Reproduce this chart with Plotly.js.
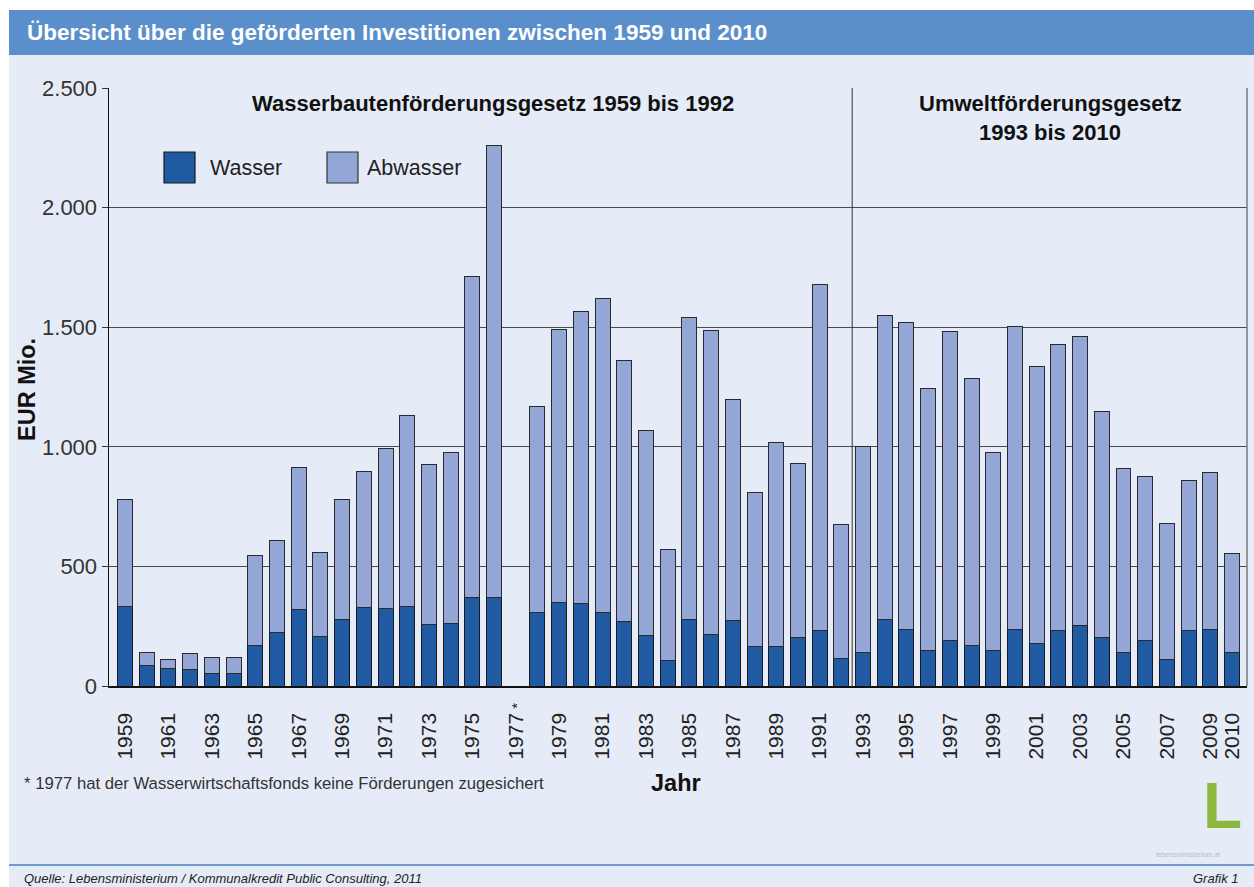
<!DOCTYPE html>
<html>
<head>
<meta charset="utf-8">
<script src="https://cdn.plot.ly/plotly-3.0.1.min.js"></script>
<style>
  html, body { margin: 0; padding: 0; background: #ffffff; }
  #chart { width: 1254px; height: 887px; }
</style>
</head>
<body>
<div id="chart"></div>
<script>
// Jahre 1959 - 2010 (1977 keine Förderung)
const jahre = [1959, 1960, 1961, 1962, 1963, 1964, 1965, 1966, 1967, 1968,
  1969, 1970, 1971, 1972, 1973, 1974, 1975, 1976, 1977, 1978,
  1979, 1980, 1981, 1982, 1983, 1984, 1985, 1986, 1987, 1988,
  1989, 1990, 1991, 1992, 1993, 1994, 1995, 1996, 1997, 1998,
  1999, 2000, 2001, 2002, 2003, 2004, 2005, 2006, 2007, 2008,
  2009, 2010];

// EUR Mio., Wasser
const wasser = [334, 84, 75, 71, 54, 54, 171, 222, 318, 205,
  276, 330, 322, 334, 259, 263, 368, 372, null, 309,
  351, 347, 309, 268, 213, 105, 276, 217, 272, 167,
  167, 201, 234, 117, 138, 280, 238, 150, 192, 171,
  150, 238, 176, 230, 255, 201, 138, 192, 109, 230,
  238, 142];

// EUR Mio., Abwasser
const abwasser = [447, 57, 34, 66, 66, 66, 374, 388, 595, 354,
  505, 567, 672, 796, 668, 714, 1345, 1888, null, 859,
  1139, 1219, 1313, 1091, 854, 466, 1264, 1270, 925, 643,
  852, 728, 1445, 560, 862, 1268, 1281, 1092, 1291, 1115,
  825, 1266, 1161, 1198, 1205, 947, 772, 685, 571, 628,
  655, 413];

const tickJahre = [1959, 1961, 1963, 1965, 1967, 1969, 1971, 1973, 1975, 1977,
  1979, 1981, 1983, 1985, 1987, 1989, 1991, 1993, 1995, 1997,
  1999, 2001, 2003, 2005, 2007, 2009, 2010];
const tickText = ['1959', '1961', '1963', '1965', '1967', '1969', '1971', '1973', '1975', '1977',
  '1979', '1981', '1983', '1985', '1987', '1989', '1991', '1993', '1995', '1997',
  '1999', '2001', '2003', '2005', '2007', '2009', '2010'];
const jahrOhneFoerderung = 1977;

const farbeWasser = '#1f5aa3';
const farbeAbwasser = '#93a6d6';
const hintergrund = '#e6ecf7';
const schrift = 'Liberation Sans, Arial, sans-serif';

// Plotfläche in Pixel: links 109, rechts 1247, oben 88, unten 686
const L = 109, R = 1247, T = 88, B = 686;
const px = x => (x - L) / (R - L);
const py = y => (B - y) / (B - T);

const spuren = [
  {
    x: jahre, y: wasser, type: 'bar', name: 'Wasser',
    width: 0.69,
    marker: { color: farbeWasser, line: { color: '#1a1a1a', width: 1 } },
    hoverinfo: 'skip'
  },
  {
    x: jahre, y: abwasser, type: 'bar', name: 'Abwasser',
    width: 0.69,
    marker: { color: farbeAbwasser, line: { color: '#2a2a2a', width: 1 } },
    hoverinfo: 'skip'
  }
];

const shapes = [
  // weisser Rand oben und links
  { type: 'rect', xref: 'paper', yref: 'paper', x0: px(0), x1: px(1254), y0: py(0), y1: py(10),
    fillcolor: '#ffffff', line: { width: 0 }, layer: 'below' },
  { type: 'rect', xref: 'paper', yref: 'paper', x0: px(0), x1: px(9), y0: py(0), y1: py(887),
    fillcolor: '#ffffff', line: { width: 0 }, layer: 'below' },
  // Kopfzeile
  { type: 'rect', xref: 'paper', yref: 'paper', x0: px(9), x1: px(1254), y0: py(10), y1: py(55),
    fillcolor: '#5b8fcc', line: { width: 0 }, layer: 'below' },
  // Fusslinie
  { type: 'line', xref: 'paper', yref: 'paper', x0: px(9), x1: px(1254), y0: py(865), y1: py(865),
    line: { color: '#4d7dbd', width: 1.5 } },
  // Trennlinie 1992 / 1993
  { type: 'line', xref: 'x', yref: 'y', x0: 1992.5, x1: 1992.5, y0: 0, y1: 2500,
    line: { color: '#333333', width: 1 } },
  // rechter Rahmen
  { type: 'line', xref: 'paper', yref: 'paper', x0: 1, x1: 1, y0: 0, y1: 1,
    line: { color: '#7a7a7a', width: 1.5 } },
  // Legende
  { type: 'rect', xref: 'paper', yref: 'paper', x0: px(164), x1: px(195), y0: py(183), y1: py(152),
    fillcolor: farbeWasser, line: { color: '#1a1a1a', width: 1.2 } },
  { type: 'rect', xref: 'paper', yref: 'paper', x0: px(327), x1: px(358), y0: py(183), y1: py(152),
    fillcolor: farbeAbwasser, line: { color: '#333333', width: 1.2 } }
];

const annotations = [
  { text: 'Übersicht über die geförderten Investitionen zwischen 1959 und 2010',
    xref: 'paper', yref: 'paper', x: px(25), y: py(33), xanchor: 'left', yanchor: 'middle',
    showarrow: false, font: { family: schrift, size: 22.5, color: '#ffffff', weight: 'bold' } },
  { text: 'Wasserbautenförderungsgesetz 1959 bis 1992',
    xref: 'paper', yref: 'paper', x: px(493), y: py(104), xanchor: 'center', yanchor: 'middle',
    showarrow: false, font: { family: schrift, size: 22, color: '#111111', weight: 'bold' } },
  { text: 'Umweltförderungsgesetz',
    xref: 'paper', yref: 'paper', x: px(1050), y: py(104), xanchor: 'center', yanchor: 'middle',
    showarrow: false, font: { family: schrift, size: 22, color: '#111111', weight: 'bold' } },
  { text: '1993 bis 2010',
    xref: 'paper', yref: 'paper', x: px(1050), y: py(133), xanchor: 'center', yanchor: 'middle',
    showarrow: false, font: { family: schrift, size: 22, color: '#111111', weight: 'bold' } },
  { text: 'Wasser',
    xref: 'paper', yref: 'paper', x: px(208), y: py(168), xanchor: 'left', yanchor: 'middle',
    showarrow: false, font: { family: schrift, size: 21.5, color: '#222222' } },
  { text: 'Abwasser',
    xref: 'paper', yref: 'paper', x: px(365), y: py(168), xanchor: 'left', yanchor: 'middle',
    showarrow: false, font: { family: schrift, size: 21.5, color: '#222222' } },
  { text: 'EUR Mio.',
    xref: 'paper', yref: 'paper', x: px(27), y: py(390), xanchor: 'center', yanchor: 'middle',
    textangle: -90, showarrow: false, font: { family: schrift, size: 23.5, color: '#111111', weight: 'bold' } },
  { text: 'Jahr',
    xref: 'paper', yref: 'paper', x: px(676), y: py(783), xanchor: 'center', yanchor: 'middle',
    showarrow: false, font: { family: schrift, size: 23.5, color: '#111111', weight: 'bold' } },
  // Sternchen am Jahr ohne Förderung
  { text: '*',
    xref: 'x', yref: 'paper', x: jahrOhneFoerderung, y: py(706), xanchor: 'center', yanchor: 'middle',
    textangle: -90, showarrow: false, font: { family: schrift, size: 15, color: '#222222' } },
  { text: '* 1977 hat der Wasserwirtschaftsfonds keine Förderungen zugesichert',
    xref: 'paper', yref: 'paper', x: px(22), y: py(783), xanchor: 'left', yanchor: 'middle',
    showarrow: false, font: { family: schrift, size: 16.7, color: '#333333' } },
  { text: '<i>Quelle: Lebensministerium / Kommunalkredit Public Consulting, 2011</i>',
    xref: 'paper', yref: 'paper', x: px(22), y: py(879), xanchor: 'left', yanchor: 'middle',
    showarrow: false, font: { family: schrift, size: 13, color: '#222222' } },
  { text: '<i>Grafik 1</i>',
    xref: 'paper', yref: 'paper', x: px(1241), y: py(879), xanchor: 'right', yanchor: 'middle',
    showarrow: false, font: { family: schrift, size: 13, color: '#222222' } },
  // Logo
  { text: 'L',
    xref: 'paper', yref: 'paper', x: px(1222), y: py(806), xanchor: 'center', yanchor: 'middle',
    showarrow: false, font: { family: schrift, size: 64, color: '#8cb83e', weight: 'bold' } },
  { text: 'lebensministerium.at',
    xref: 'paper', yref: 'paper', x: px(1188), y: py(854), xanchor: 'center', yanchor: 'middle',
    showarrow: false, font: { family: schrift, size: 7, color: '#b8bcc6' } }
];

const layout = {
  width: 1254,
  height: 887,
  margin: { l: L, r: 1254 - R, t: T, b: 887 - B, pad: 0 },
  paper_bgcolor: hintergrund,
  plot_bgcolor: 'rgba(0,0,0,0)',
  separators: ',.',
  barmode: 'stack',
  showlegend: false,
  font: { family: schrift, color: '#222222' },
  xaxis: {
    range: [1958.26, 2010.69],
    tickmode: 'array',
    tickvals: tickJahre,
    ticktext: tickText,
    tickangle: -90,
    tickfont: { family: schrift, size: 21, color: '#222222' },
    ticks: '',
    ticklabelstandoff: 17,
    showgrid: false,
    zeroline: false,
    showline: true,
    linecolor: '#111111',
    linewidth: 1.5
  },
  yaxis: {
    range: [0, 2500],
    tickvals: [0, 500, 1000, 1500, 2000, 2500],
    tickformat: ',d',
    tickfont: { family: schrift, size: 22, color: '#333333' },
    ticks: 'outside',
    ticklen: 6,
    tickcolor: '#333333',
    showgrid: true,
    gridcolor: '#4a4a4a',
    gridwidth: 1,
    zeroline: false,
    showline: true,
    linecolor: '#111111',
    linewidth: 1.5
  },
  shapes: shapes,
  annotations: annotations
};

Plotly.newPlot('chart', spuren, layout, { staticPlot: true, displayModeBar: false });
</script>
</body>
</html>
